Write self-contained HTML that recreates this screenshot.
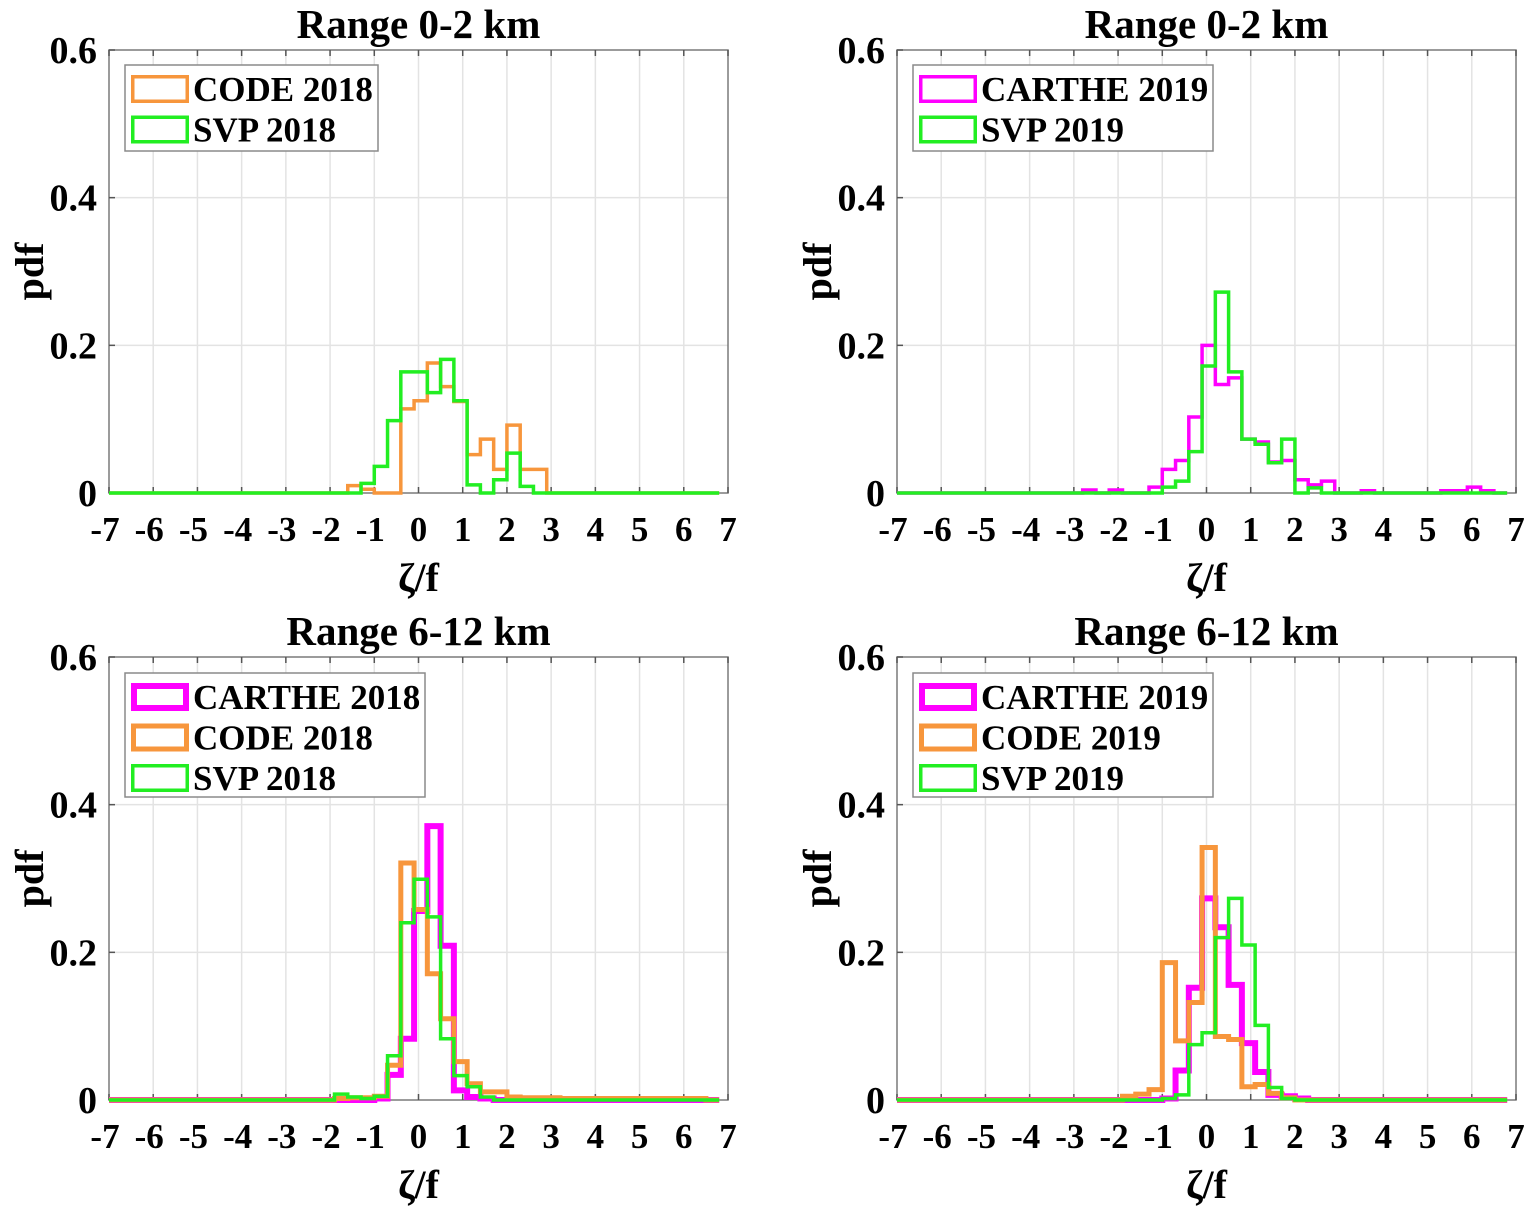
<!DOCTYPE html>
<html><head><meta charset="utf-8"><style>
html,body{margin:0;padding:0;background:#fff;}
svg{display:block;font-family:"Liberation Serif",serif;font-weight:bold;}
</style></head><body>
<svg id="fig" width="1535" height="1214" viewBox="0 0 1535 1214" xmlns="http://www.w3.org/2000/svg"></svg>
<script>
const NS="http://www.w3.org/2000/svg";
const binStart=-7, binWidth=0.3, nBins=46;
const xTicks=[-7,-6,-5,-4,-3,-2,-1,0,1,2,3,4,5,6,7];
const yTicks=[0,0.2,0.4,0.6];
const yTickLabels=["0","0.2","0.4","0.6"];
// full 46-bin series (bin k = [-7+0.3k, -7+0.3(k+1)])
const code2018_r02=[0,0,0,0,0,0,0,0,0,0,0,0,0,0,0,0,0,0,0.010,0.005,0,0,0.114,0.125,0.176,0.144,0.124,0.052,0.073,0.032,0.092,0.032,0.032,0,0,0,0,0,0,0,0,0,0,0,0,0];
const svp2018_r02=[0,0,0,0,0,0,0,0,0,0,0,0,0,0,0,0,0,0,0,0.013,0.036,0.098,0.164,0.164,0.136,0.181,0.125,0.011,0,0.018,0.054,0.009,0,0,0,0,0,0,0,0,0,0,0,0,0,0];
const carthe2019_r02=[0,0,0,0,0,0,0,0,0,0,0,0,0,0,0.004,0,0.004,0,0,0.008,0.032,0.044,0.103,0.200,0.147,0.156,0.073,0.069,0.042,0.044,0.018,0.011,0.016,0,0,0.003,0,0,0,0,0,0.003,0.003,0.008,0.003,0];
const svp2019_r02=[0,0,0,0,0,0,0,0,0,0,0,0,0,0,0,0,0,0,0,0,0.008,0.016,0.056,0.172,0.272,0.164,0.073,0.066,0.041,0.073,0,0.007,0,0,0,0,0,0,0,0,0,0,0,0,0,0];
const carthe2018_r612=[0,0,0,0,0,0,0,0,0,0,0,0,0,0,0,0,0,0,0,0,0.002,0.034,0.083,0.256,0.371,0.209,0.013,0.004,0.002,0,0,0,0,0,0,0,0,0,0,0,0,0,0,0,0,0];
const code2018_r612=[0,0,0,0,0,0,0,0,0,0,0,0,0,0,0,0,0,0.002,0.003,0.003,0.005,0.047,0.321,0.258,0.171,0.110,0.052,0.022,0.011,0.011,0.004,0.003,0.003,0.003,0.002,0.002,0.002,0.002,0.002,0.002,0.002,0.002,0.002,0.002,0.002,0];
const svp2018_r612=[0,0,0,0,0,0,0,0,0,0,0,0,0,0,0,0,0,0.008,0.004,0.002,0.005,0.060,0.240,0.299,0.248,0.083,0.033,0.018,0.004,0,0,0,0,0,0,0,0,0,0,0,0,0,0,0,0,0];
const carthe2019_r612=[0,0,0,0,0,0,0,0,0,0,0,0,0,0,0,0,0,0,0,0,0.002,0.040,0.152,0.273,0.234,0.156,0.077,0.038,0.007,0.005,0.002,0,0,0,0,0,0,0,0,0,0,0,0,0,0,0];
const code2019_r612=[0,0,0,0,0,0,0,0,0,0,0,0,0,0,0,0,0,0.005,0.008,0.014,0.186,0.080,0.132,0.342,0.086,0.082,0.018,0.021,0.009,0.003,0,0,0,0,0,0,0,0,0,0,0,0,0,0,0,0];
const svp2019_r612=[0,0,0,0,0,0,0,0,0,0,0,0,0,0,0,0,0,0,0,0,0.002,0.007,0.075,0.091,0.220,0.273,0.210,0.101,0.017,0.002,0,0,0,0,0,0,0,0,0,0,0,0,0,0,0,0];

const MAG="#ff00ff", ORG="#f7963c", GRN="#22ee22";
const panels=[
 {id:"p1",L:109,T:50,B:493,title:"Range 0-2 km",leg:{x:125,y:65,w:253},
  series:[{name:"CODE 2018",data:code2018_r02,c:ORG,w:3.5},{name:"SVP 2018",data:svp2018_r02,c:GRN,w:3.5}]},
 {id:"p2",L:897,T:50,B:493,title:"Range 0-2 km",leg:{x:913,y:65,w:300},
  series:[{name:"CARTHE 2019",data:carthe2019_r02,c:MAG,w:3.5},{name:"SVP 2019",data:svp2019_r02,c:GRN,w:3.5}]},
 {id:"p3",L:109,T:657,B:1100,title:"Range 6-12 km",leg:{x:125,y:673,w:300},
  series:[{name:"CARTHE 2018",data:carthe2018_r612,c:MAG,w:6},{name:"CODE 2018",data:code2018_r612,c:ORG,w:5},{name:"SVP 2018",data:svp2018_r612,c:GRN,w:3.5}]},
 {id:"p4",L:897,T:657,B:1100,title:"Range 6-12 km",leg:{x:913,y:673,w:300},
  series:[{name:"CARTHE 2019",data:carthe2019_r612,c:MAG,w:6},{name:"CODE 2019",data:code2019_r612,c:ORG,w:5},{name:"SVP 2019",data:svp2019_r612,c:GRN,w:3.5}]}
];
const W=619;
const svg=document.getElementById("fig");
function mk(tag,attrs,parent){const e=document.createElementNS(NS,tag);for(const k in attrs)e.setAttribute(k,attrs[k]);(parent||svg).appendChild(e);return e;}

panels.forEach(p=>{
  const g=mk("g",{});
  
  
  const xs=v=>p.L+(v+7)/14*W;
  const ys=v=>p.B-(v/0.6)*(p.B-p.T);
  xTicks.forEach(t=>{if(t>-7&&t<7){const l=mk("line",{x1:xs(t),x2:xs(t),y1:p.T,y2:p.B,stroke:"#e3e3e3","stroke-width":1.5},g);
    
    }});
  yTicks.forEach(t=>{if(t>0&&t<0.6){const l=mk("line",{x1:p.L,x2:p.L+W,y1:ys(t),y2:ys(t),stroke:"#e3e3e3","stroke-width":1.5},g);
    
    }});
  const box=mk("rect",{x:p.L,y:p.T,width:W,height:p.B-p.T,fill:"none",stroke:"#7a7a7a","stroke-width":1.5},g);
  
  
  xTicks.forEach((t,i)=>{
    mk("line",{x1:xs(t),x2:xs(t),y1:p.B,y2:p.B-6,stroke:"#555","stroke-width":1.5},g);
    mk("line",{x1:xs(t),x2:xs(t),y1:p.T,y2:p.T+6,stroke:"#555","stroke-width":1.5},g);
    const tx=mk("text",{x:xs(t)-(t<0?4:0),y:p.B+48,"text-anchor":"middle","font-size":35},g);
    tx.textContent=String(t);
    
    
  });
  yTicks.forEach((t,i)=>{
    mk("line",{x1:p.L,x2:p.L+6,y1:ys(t),y2:ys(t),stroke:"#555","stroke-width":1.5},g);
    const tx=mk("text",{x:p.L-12,y:ys(t)+13,"text-anchor":"end","font-size":38},g);
    tx.textContent=yTickLabels[i];
    
    
  });
  p.series.forEach(s=>{
    let d="M"+xs(binStart)+","+ys(0);
    for(let k=0;k<nBins;k++){
      const e1=binStart+binWidth*(k+1);
      d+=" V"+ys(s.data[k])+" H"+xs(e1);
    }
    d+=" V"+ys(0);
    const path=mk("path",{d:d,fill:"none",stroke:s.c,"stroke-width":s.w,"stroke-linejoin":"miter"},g);
    
    
  });
  const ti=mk("text",{x:p.L+W/2,y:p.T-12,"text-anchor":"middle","font-size":41},g);
  ti.textContent=p.title;
  
  
  const xl=mk("text",{x:p.L+W/2,y:p.B+98,"text-anchor":"middle","font-size":40},g);
  xl.textContent="ζ/f";
  
  
  const cy=(p.T+p.B)/2;
  const yl=mk("text",{x:p.L-66,y:cy,"text-anchor":"middle","font-size":40,transform:"rotate(-90 "+(p.L-66)+" "+cy+")"},g);
  yl.textContent="pdf";
  
  
  const n=p.series.length, lh=n===2?86:124;
  const lg=mk("g",{},g);
  
  
  mk("rect",{x:p.leg.x,y:p.leg.y,width:p.leg.w,height:lh,fill:"#fff",stroke:"#8a8a8a","stroke-width":1.5},lg);
  p.series.forEach((s,i)=>{
    const cyR=p.leg.y+24+i*40.5;
    const sw=mk("rect",{x:p.leg.x+6+s.w/2,y:cyR-14+s.w/2,width:58-s.w,height:28-s.w,fill:"none",stroke:s.c,"stroke-width":s.w},lg);
    
    
    const t=mk("text",{x:p.leg.x+68,y:cyR+12,"font-size":35},lg);
    t.textContent=s.name;
    
    
  });
});
</script>
</body></html>
